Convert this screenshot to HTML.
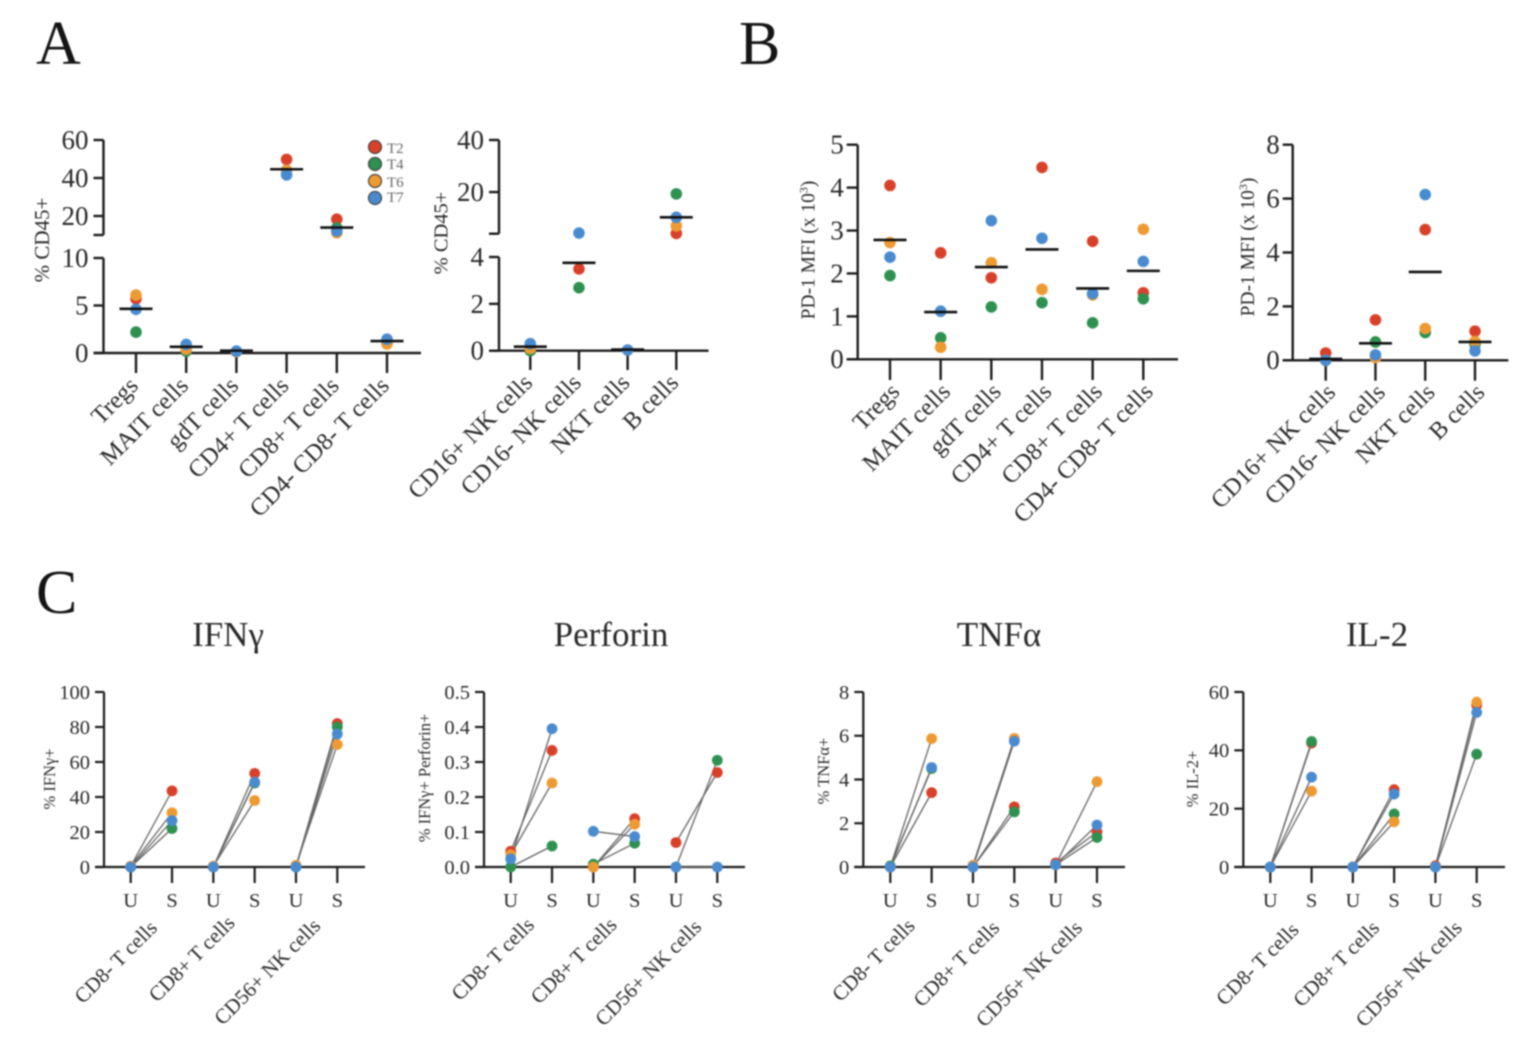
<!DOCTYPE html>
<html lang="en">
<head>
<meta charset="utf-8">
<title>Immune cell frequencies, PD-1 MFI and cytokine responses</title>
<style>
html,body{margin:0;padding:0;background:#fff;width:1536px;height:1049px;overflow:hidden}
svg{display:block;filter:blur(.8px);font-family:"Liberation Serif",serif}
text{fill:#2a2a2a}
</style>
</head>
<body>
<svg id="figure" width="1536" height="1049" viewBox="0 0 1536 1049" xmlns="http://www.w3.org/2000/svg">
  <rect width="1536" height="1049" fill="#fff"/>
  <text x="36" y="64" font-size="62" style="fill:#151515">A</text>
  <text x="739" y="64" font-size="62" style="fill:#151515">B</text>
  <text x="36" y="613" font-size="62" style="fill:#151515">C</text>
  <text x="228" y="646" font-size="35" text-anchor="middle">IFNγ</text>
  <text x="611" y="646" font-size="35" text-anchor="middle">Perforin</text>
  <text x="999" y="646" font-size="35" text-anchor="middle">TNFα</text>
  <text x="1377" y="646" font-size="35" text-anchor="middle">IL-2</text>
  <text transform="translate(49,240) rotate(-90)" font-size="21" text-anchor="middle">% CD45+</text>
  <text transform="translate(447.5,233) rotate(-90)" font-size="20.5" text-anchor="middle">% CD45+</text>
  <text transform="translate(814.5,250) rotate(-90)" font-size="19.5" text-anchor="middle">PD-1 MFI (x 10<tspan font-size="12" dy="-7">3</tspan><tspan dy="7">)</tspan></text>
  <text transform="translate(1254,247) rotate(-90)" font-size="19.5" text-anchor="middle">PD-1 MFI (x 10<tspan font-size="12" dy="-7">3</tspan><tspan dy="7">)</tspan></text>
  <text transform="translate(55,779) rotate(-90)" font-size="16.5" text-anchor="middle">% IFNγ+</text>
  <text transform="translate(430,778) rotate(-90)" font-size="16.5" text-anchor="middle">% IFNγ+ Perforin+</text>
  <text transform="translate(829,771) rotate(-90)" font-size="16.5" text-anchor="middle">% TNFα+</text>
  <text transform="translate(1198,779) rotate(-90)" font-size="16.5" text-anchor="middle">% IL-2+</text>
  <g>
    <circle cx="375" cy="147" r="6.5" fill="#d9402a" stroke="#444" stroke-width="1.2"/>
    <circle cx="375" cy="164" r="6.5" fill="#2f9150" stroke="#444" stroke-width="1.2"/>
    <circle cx="375" cy="181" r="6.5" fill="#ee9a33" stroke="#444" stroke-width="1.2"/>
    <circle cx="375" cy="198" r="6.5" fill="#4a8bd0" stroke="#444" stroke-width="1.2"/>
    <text x="387" y="153" font-size="15" style="fill:#666">T2</text>
    <text x="387" y="169" font-size="15" style="fill:#666">T4</text>
    <text x="387" y="187" font-size="15" style="fill:#666">T6</text>
    <text x="387" y="202" font-size="15" style="fill:#666">T7</text>
  </g>
</svg>
<script>
// ---------- Panel A, left ----------
const a1Categories = ["Tregs","MAIT cells","gdT cells","CD4+ T cells","CD8+ T cells","CD4- CD8- T cells"];
const a1T2 = [5.7,0.5,0.15,49.8,18.3,1.2];
const a1T4 = [2.2,0.2,0.15,44,13.7,1.1];
const a1T6 = [6.1,0.4,0.15,44,11.2,0.95];
const a1T7 = [4.6,0.9,0.2,41.6,12.1,1.45];
const a1Means = [4.65,0.65,0.25,44.6,13.9,1.26];
const a1Ticks = [0,5,10,20,40,60];
// ---------- Panel A, right ----------
const a2Categories = ["CD16+ NK cells","CD16- NK cells","NKT cells","B cells"];
const a2T2 = [0.1,3.49,null,4.1];
const a2T4 = [0,2.69,null,19.3];
const a2T6 = [0.1,null,null,7];
const a2T7 = [0.3,4.25,0.03,10.3];
const a2Means = [0.17,3.75,0.05,10.3];
const a2Ticks = [0,2,4,20,40];
// ---------- Panel B, left ----------
const b1Categories = ["Tregs","MAIT cells","gdT cells","CD4+ T cells","CD8+ T cells","CD4- CD8- T cells"];
const b1T2 = [4.05,2.48,1.9,4.47,2.75,1.55];
const b1T4 = [1.95,0.5,1.22,1.32,0.85,1.41];
const b1T6 = [2.72,0.28,2.25,1.63,1.5,3.03];
const b1T7 = [2.38,1.12,3.23,2.82,1.53,2.28];
const b1Means = [2.78,1.1,2.15,2.56,1.65,2.06];
const b1Ticks = [0,1,2,3,4,5];
// ---------- Panel B, right ----------
const b2Categories = ["CD16+ NK cells","CD16- NK cells","NKT cells","B cells"];
const b2T2 = [0.27,1.5,4.85,1.08];
const b2T4 = [0,0.68,1.03,0.6];
const b2T6 = [0,0.1,1.18,0.7];
const b2T7 = [0,0.2,6.15,0.35];
const b2Means = [0.05,0.63,3.28,0.68];
const b2Ticks = [0,2,4,6,8];
// ---------- Panel C shared ----------
const cConditions = ["U","S","U","S","U","S"];
const cGroups = ["CD8- T cells","CD8+ T cells","CD56+ NK cells"];
// ---------- Panel C, IFN gamma: U,S pairs per group ----------
const ifnT2 = [0.3,43.5,0,53.5,0.3,82];
const ifnT4 = [0,22,0,48,0,80];
const ifnT6 = [0.5,31,0.5,38,1,70];
const ifnT7 = [0,26.5,0,48.5,0,76];
const ifnTicks = [0,20,40,60,80,100];
// ---------- Panel C, Perforin ----------
const perfT2 = [0.045,0.333,0,0.138,0.07,0.27];
const perfT4 = [0,0.06,0.008,0.068,0,0.305];
const perfT6 = [0.035,0.24,0,0.122,null,null];
const perfT7 = [0.023,0.395,0.102,0.087,0,0];
const perfTicks = [0,0.1,0.2,0.3,0.4,0.5];
// ---------- Panel C, TNF alpha ----------
const tnfT2 = [0,3.4,0,2.75,0.18,1.6];
const tnfT4 = [0.05,4.5,0,2.52,0.1,1.35];
const tnfT6 = [0,5.87,0.08,5.88,0.1,3.9];
const tnfT7 = [0,4.55,0,5.75,0.1,1.92];
const tnfTicks = [0,2,4,6,8];
// ---------- Panel C, IL-2 ----------
const il2T2 = [0,42.5,0,26.5,0.4,55.5];
const il2T4 = [0,43,0,18.2,0,38.7];
const il2T6 = [0,26,0,15.5,0,56.5];
const il2T7 = [0,30.8,0,25,0,53];
const il2Ticks = [0,20,40,60];

const colorT2 = "#d9402a", colorT4 = "#2f9150", colorT6 = "#ee9a33", colorT7 = "#4a8bd0";
const AXIS = "#1c1c1c";
const NS = "http://www.w3.org/2000/svg";
const figure = document.getElementById("figure");

function mk(tag, attrs, parent, text) {
  const el = document.createElementNS(NS, tag);
  for (const k in attrs) el.setAttribute(k, attrs[k]);
  if (text !== undefined) el.textContent = text;
  parent.appendChild(el);
  return el;
}
function scaleY(segments) {
  return function (v) {
    let s = segments[segments.length - 1];
    for (const seg of segments) { if (v <= seg.d1) { s = seg; break; } }
    return s.p0 + (v - s.d0) / (s.d1 - s.d0) * (s.p1 - s.p0);
  };
}
function scaleX(first, last, n) {
  return function (i) { return n > 1 ? first + (last - first) * i / (n - 1) : first; };
}
function axisLine(g, x1, y1, x2, y2, w) {
  const l = mk("line", {x1: x1, y1: y1, x2: x2, y2: y2, stroke: AXIS, "stroke-width": w}, g);
  
  
}
function drawYAxis(g, o, y, ticks, fmt) {
  const zero = y(0);
  o.segments.forEach(function (seg) {
    axisLine(g, o.axisX, seg.p0, o.axisX, seg.p1, o.sw);
  });
  o.segments.slice(1).forEach(function (seg) {
    axisLine(g, o.axisX - o.tickLen, seg.p0, o.axisX, seg.p0, o.sw);
  });
  ticks.forEach(function (t) {
    axisLine(g, o.axisX - o.tickLen, y(t), o.axisX, y(t), o.sw);
    const label = mk("text", {x: o.axisX - o.tickLen - o.labelGap, y: y(t) + o.tickFont * 0.33, "font-size": o.tickFont, "text-anchor": "end"}, g, fmt ? fmt(t) : String(t));
    
    
  });
  axisLine(g, o.axisX - o.tickLen, zero, o.xEnd, zero, o.sw);
}
function dot(g, cx, cy, r, color) {
  const c = mk("circle", {cx: cx, cy: cy, r: r, fill: color}, g);
  
  
}
function drawScatter(o, categories, t2, t4, t6, t7, means, ticks) {
  const g = mk("g", {}, figure);
  
  
  const y = scaleY(o.segments);
  const x = scaleX(o.firstX, o.lastX, categories.length);
  drawYAxis(g, o, y, ticks);
  categories.forEach(function (name, i) {
    axisLine(g, x(i), y(0), x(i), o.tickBottom, o.sw);
    const label = mk("text", {transform: "translate(" + (x(i) + o.catDx) + "," + (o.tickBottom + o.catDy) + ") rotate(-45)", "font-size": o.catFont, "text-anchor": "end"}, g, name);
    
    
  });
  [[t2, colorT2], [t4, colorT4], [t6, colorT6], [t7, colorT7]].forEach(function (s) {
    s[0].forEach(function (v, i) {
      if (v !== null) dot(g, x(i), y(v), 5.8, s[1]);
    });
  });
  means.forEach(function (m, i) {
    const line = mk("line", {x1: x(i) - 16.5, x2: x(i) + 16.5, y1: y(m), y2: y(m), stroke: "#111", "stroke-width": 2.6}, g);
    
    
  });
}
function drawPaired(o, t2, t4, t6, t7, ticks, fmt) {
  const g = mk("g", {}, figure);
  
  
  const y = scaleY(o.segments);
  const x = scaleX(o.firstX, o.lastX, cConditions.length);
  drawYAxis(g, o, y, ticks, fmt);
  cConditions.forEach(function (c, i) {
    axisLine(g, x(i), y(0), x(i), o.tickBottom, o.sw);
    const label = mk("text", {x: x(i), y: 907, "font-size": 20.5, "text-anchor": "middle"}, g, c);
    
    
  });
  cGroups.forEach(function (name, i) {
    const center = (x(i * 2) + x(i * 2 + 1)) / 2;
    const nudge = o.groupDx ? o.groupDx[i] : 0;
    const label = mk("text", {transform: "translate(" + (center + 7 + nudge) + "," + (929 + nudge) + ") rotate(-45)", "font-size": 20.8, "text-anchor": "end"}, g, name);
    
    
  });
  const series = [[t2, colorT2], [t4, colorT4], [t6, colorT6], [t7, colorT7]];
  series.forEach(function (s) {
    for (let i = 0; i < s[0].length; i += 2) {
      if (s[0][i] === null || s[0][i + 1] === null) continue;
      const line = mk("line", {x1: x(i), y1: y(s[0][i]), x2: x(i + 1), y2: y(s[0][i + 1]), stroke: "#666", "stroke-width": 1.3}, g);
      
      
    }
  });
  series.forEach(function (s) {
    s[0].forEach(function (v, i) {
      if (v !== null) dot(g, x(i), y(v), 5.4, s[1]);
    });
  });
}

drawScatter({name: "chart-a-left", axisX: 103.5, xEnd: 421, firstX: 136, lastX: 387, tickBottom: 373, tickLen: 10, labelGap: 5, tickFont: 27, catFont: 24.4, catDx: 3.5, catDy: 14, sw: 2.4,
  segments: [{d0: 0, d1: 10, p0: 353, p1: 258}, {d0: 10, d1: 60, p0: 235, p1: 140}]},
  a1Categories, a1T2, a1T4, a1T6, a1T7, a1Means, a1Ticks);
drawScatter({name: "chart-a-right", axisX: 499, xEnd: 708.5, firstX: 530.3, lastX: 676.3, tickBottom: 370, tickLen: 10, labelGap: 5, tickFont: 27, catFont: 24.4, catDx: 3.5, catDy: 14, sw: 2.4,
  segments: [{d0: 0, d1: 4, p0: 350.7, p1: 257}, {d0: 4, d1: 40, p0: 233.7, p1: 140}]},
  a2Categories, a2T2, a2T4, a2T6, a2T7, a2Means, a2Ticks);
drawScatter({name: "chart-b-left", axisX: 857.7, xEnd: 1178, firstX: 890, lastX: 1143.3, tickBottom: 380, tickLen: 11, labelGap: 3, tickFont: 27, catFont: 24.4, catDx: 11, catDy: 13, sw: 2.4,
  segments: [{d0: 0, d1: 5, p0: 359.3, p1: 144.7}]},
  b1Categories, b1T2, b1T4, b1T6, b1T7, b1Means, b1Ticks);
drawScatter({name: "chart-b-right", axisX: 1292.7, xEnd: 1508.3, firstX: 1325.7, lastX: 1475, tickBottom: 380.7, tickLen: 10, labelGap: 3, tickFont: 27, catFont: 24.4, catDx: 11, catDy: 13, sw: 2.4,
  segments: [{d0: 0, d1: 8, p0: 360.3, p1: 144.7}]},
  b2Categories, b2T2, b2T4, b2T6, b2T7, b2Means, b2Ticks);

drawPaired({name: "chart-ifn-gamma", axisX: 104, xEnd: 365, firstX: 130.7, lastX: 337.3, tickBottom: 883, tickLen: 9, labelGap: 5, tickFont: 20.5, sw: 2.2, groupDx: [0, -5, -2],
  segments: [{d0: 0, d1: 100, p0: 867, p1: 692}]}, ifnT2, ifnT4, ifnT6, ifnT7, ifnTicks);
drawPaired({name: "chart-perforin", axisX: 484, xEnd: 745, firstX: 510.7, lastX: 717.3, tickBottom: 883, tickLen: 9, labelGap: 5, tickFont: 20.5, sw: 2.2, groupDx: [-3, -3, -1],
  segments: [{d0: 0, d1: 0.5, p0: 867, p1: 692}]}, perfT2, perfT4, perfT6, perfT7, perfTicks, function (t) { return t.toFixed(1); });
drawPaired({name: "chart-tnf-alpha", axisX: 863.3, xEnd: 1125, firstX: 890.3, lastX: 1097, tickBottom: 883, tickLen: 9, labelGap: 5, tickFont: 20.5, sw: 2.2, groupDx: [-2, 0, 0],
  segments: [{d0: 0, d1: 8, p0: 867, p1: 692}]}, tnfT2, tnfT4, tnfT6, tnfT7, tnfTicks);
drawPaired({name: "chart-il-2", axisX: 1243.3, xEnd: 1505, firstX: 1270.3, lastX: 1476.7, tickBottom: 883, tickLen: 9, labelGap: 5, tickFont: 20.5, sw: 2.2, groupDx: [2, 0, 0],
  segments: [{d0: 0, d1: 60, p0: 867, p1: 692}]}, il2T2, il2T4, il2T6, il2T7, il2Ticks);
</script>
</body>
</html>
